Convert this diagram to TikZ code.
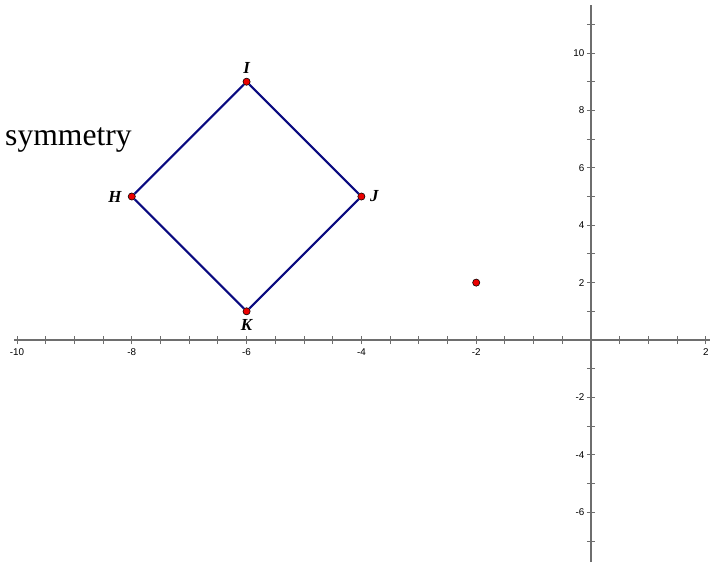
\documentclass[tikz,border=0pt]{standalone}
\usepackage{fontspec}
\setmainfont{Liberation Serif}
\setsansfont{Liberation Sans}
\usetikzlibrary{positioning}
\definecolor{axisgray}{RGB}{110,110,110}
\definecolor{sidenavy}{RGB}{10,10,128}
\definecolor{pointred}{RGB}{235,0,0}
\tikzset{
    axisline/.style={axisgray, line width=0.75pt},
    tickline/.style={axisgray, line width=0.6pt},
    ticklabel/.style={font=\sffamily\fontsize{7}{7}\selectfont, text=black, inner sep=1pt},
    side/.style={sidenavy, line width=1.5pt},
    dot/.style={circle, draw=black, fill=pointred, line width=0.4pt, inner sep=0pt, minimum size=0.18cm},
    ptlabel/.style={font=\fontsize{12}{12}\selectfont\bfseries\itshape, inner sep=1pt},
}
\begin{document}
\begin{tikzpicture}[x=1.435cm, y=0.7175cm]
    \useasboundingbox (-10.296,-7.735) rectangle (2.282,11.847);

    % Axes
    \draw[axisline] (-10.05,0) -- (2.07,0);
    \draw[axisline] (0,-7.735) -- (0,11.67);

    % Ticks on the x-axis
    \foreach \x in {-10,-9.5,...,2} {
        \draw[tickline] (\x,0) +(0,-3pt) -- +(0,3pt);
    }
    \foreach \x in {-10,-8,-6,-4,-2,2} {
        \node[ticklabel, anchor=north] (xl\x) at ([yshift=-5pt]\x,0) {\x};
    }

    % Ticks on the y-axis
    \foreach \y in {-7,...,11} {
        \draw[tickline] (0,\y) +(-3pt,0) -- +(3pt,0);
    }
    \foreach \y in {-6,-4,-2,2,4,6,8,10} {
        \node[ticklabel, anchor=east] (yl\y) at ([xshift=-3.5pt]0,\y) {\y};
    }

    % Text
    \node[anchor=base west, inner sep=0pt, font=\fontsize{22.5}{22.5}\selectfont] (title) at (-10.21,6.794) {symmetry};

    % Points
    \node[dot] (I) at (-6,9) {};
    \node[dot] (J) at (-4,5) {};
    \node[dot] (K) at (-6,1) {};
    \node[dot] (H) at (-8,5) {};
    \node[dot] (P) at (-2,2) {};

    % Square
    \draw[side] (I) -- (J) -- (K) -- (H) -- (I);

    % Labels
    \node[ptlabel, above=0.06cm of I] (labI) {I};
    \node[ptlabel, right=0.08cm of J] (labJ) {J};
    \node[ptlabel, below=0.06cm of K] (labK) {K};
    \node[ptlabel, left=0.12cm of H] (labH) {H};
\end{tikzpicture}
\end{document}
